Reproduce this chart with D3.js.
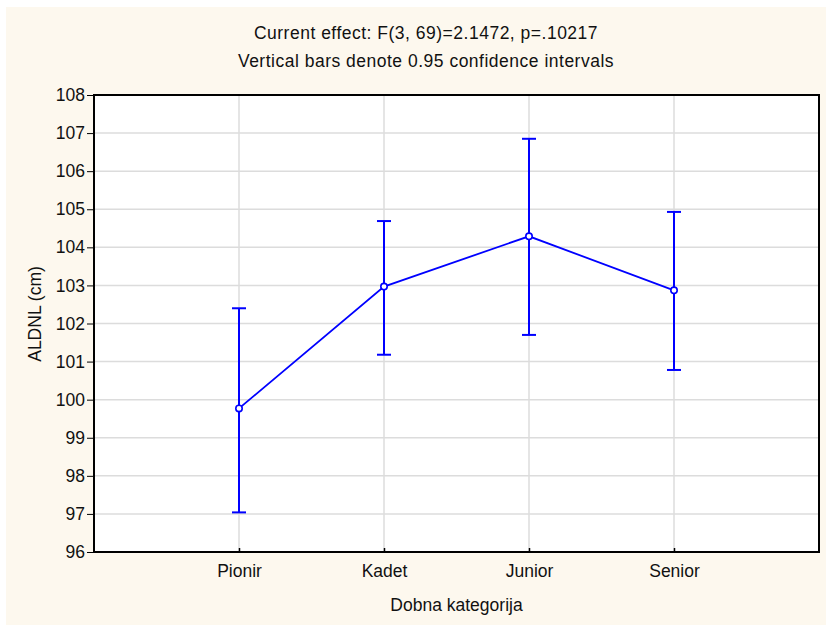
<!DOCTYPE html>
<html>
<head>
<meta charset="utf-8">
<script src="https://cdnjs.cloudflare.com/ajax/libs/d3/7.8.5/d3.min.js"></script>
<style>
    body { margin: 0; background: #ffffff; }
    text { font-family: "Liberation Sans", Arial, sans-serif; fill: #111; }
</style>
</head>
<body>
<div id="chart"></div>
<script>

var w = 831,
    h = 628;

// data
var categories = ["Pionir", "Kadet", "Junior", "Senior"],
    means = [99.77, 102.97, 104.29, 102.87],
    upper = [102.40, 104.69, 106.85, 104.93],
    lower = [97.04, 101.18, 101.70, 100.78],
    yticks = [96, 97, 98, 99, 100, 101, 102, 103, 104, 105, 106, 107, 108];

var titles = ["Current effect: F(3, 69)=2.1472, p=.10217",
              "Vertical bars denote 0.95 confidence intervals"];

var margin = {left: 94, right: 12, top: 95, bottom: 76};
var fs = 17.5;

var svg = d3.select("#chart").append("svg")
    .attr("width", w)
    .attr("height", h);

// cream background panel
svg.append("rect")
    .attr("x", 6)
    .attr("y", 7)
    .attr("width", w - 11)
    .attr("height", h - 10)
    .attr("fill", "#fdf8ee");

// scales
var x = d3.scaleLinear()
    .domain([0, categories.length + 1])
    .range([margin.left, w - margin.right]);

var y = d3.scaleLinear()
    .domain([96, 108])
    .range([h - margin.bottom, margin.top]);

// plot area
svg.append("rect")
    .attr("x", x(0))
    .attr("y", y(108))
    .attr("width", x(5) - x(0))
    .attr("height", y(96) - y(108))
    .attr("fill", "#ffffff");

// grid lines
svg.append("g")
    .selectAll("line")
    .data(yticks.slice(1, -1))
    .enter().append("line")
        .attr("x1", x(0))
        .attr("x2", x(5))
        .attr("y1", function(d) { return y(d); })
        .attr("y2", function(d) { return y(d); })
        .attr("stroke", "#dcdcdc")
        .attr("stroke-width", 1.5);

svg.append("g")
    .selectAll("line")
    .data(categories)
    .enter().append("line")
        .attr("x1", function(d, i) { return x(i + 1); })
        .attr("x2", function(d, i) { return x(i + 1); })
        .attr("y1", y(108))
        .attr("y2", y(96))
        .attr("stroke", "#dcdcdc")
        .attr("stroke-width", 1.5);

// y axis
var yAxis = svg.append("g")
    .attr("transform", "translate(" + x(0) + ",0)")
    .call(d3.axisLeft(y).tickValues(yticks).tickSize(7).tickPadding(2));

yAxis.select(".domain").remove();
yAxis.selectAll("line").attr("stroke", "#000");
yAxis.selectAll("text")
    .attr("font-size", fs)
    .style("font-family", "'Liberation Sans', Arial, sans-serif")
    .attr("fill", "#111");

// x axis labels
var xAxis = svg.append("g")
    .attr("transform", "translate(0," + y(96) + ")")
    .call(d3.axisBottom(x)
        .tickValues([1, 2, 3, 4])
        .tickFormat(function(d) { return categories[d - 1]; })
        .tickSize(-4)
        .tickPadding(13));

xAxis.select(".domain").remove();
xAxis.selectAll("line").attr("stroke", "#000").attr("stroke-width", 1.5);
xAxis.selectAll("text")
    .attr("font-size", fs)
    .style("font-family", "'Liberation Sans', Arial, sans-serif")
    .attr("fill", "#111");

// frame
svg.append("rect")
    .attr("x", x(0))
    .attr("y", y(108))
    .attr("width", x(5) - x(0))
    .attr("height", y(96) - y(108))
    .attr("fill", "none")
    .attr("stroke", "#000")
    .attr("stroke-width", 2);

// error bars
var bars = svg.append("g")
    .selectAll("g")
    .data(categories)
    .enter().append("g");

bars.append("line")
    .attr("x1", function(d, i) { return x(i + 1); })
    .attr("x2", function(d, i) { return x(i + 1); })
    .attr("y1", function(d, i) { return y(upper[i]); })
    .attr("y2", function(d, i) { return y(lower[i]); })
    .attr("stroke", "#0000ff")
    .attr("stroke-width", 2);

[upper, lower].forEach(function(arr) {
    bars.append("line")
        .attr("x1", function(d, i) { return x(i + 1) - 7; })
        .attr("x2", function(d, i) { return x(i + 1) + 7; })
        .attr("y1", function(d, i) { return y(arr[i]); })
        .attr("y2", function(d, i) { return y(arr[i]); })
        .attr("stroke", "#0000ff")
        .attr("stroke-width", 2);
});

// mean line
var line = d3.line()
    .x(function(d, i) { return x(i + 1); })
    .y(function(d) { return y(d); });

svg.append("path")
    .datum(means)
    .attr("d", line)
    .attr("fill", "none")
    .attr("stroke", "#0000ff")
    .attr("stroke-width", 1.8);

svg.append("g")
    .selectAll("circle")
    .data(means)
    .enter().append("circle")
        .attr("cx", function(d, i) { return x(i + 1); })
        .attr("cy", function(d) { return y(d); })
        .attr("r", 3.2)
        .attr("fill", "#ffffff")
        .attr("stroke", "#0000ff")
        .attr("stroke-width", 1.6);

// titles, centred on the whole picture
titles.forEach(function(t, i) {
    svg.append("text")
        .attr("x", 426)
        .attr("y", 39 + i * 28)
        .attr("text-anchor", "middle")
        .attr("font-size", fs)
        .attr("letter-spacing", 0.5)
        .text(t);
});

// axis titles
svg.append("text")
    .attr("x", (x(0) + x(5)) / 2)
    .attr("y", 611)
    .attr("text-anchor", "middle")
    .attr("font-size", fs)
    .text("Dobna kategorija");

svg.append("text")
    .attr("transform", "translate(41,314) rotate(-90)")
    .attr("text-anchor", "middle")
    .attr("font-size", fs)
    .text("ALDNL (cm)");

</script>
</body>
</html>
